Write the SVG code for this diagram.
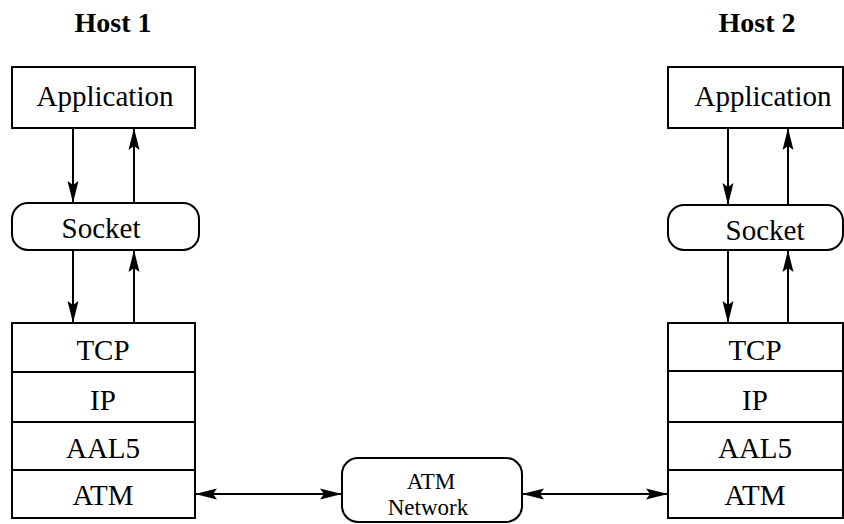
<svg xmlns="http://www.w3.org/2000/svg" width="844" height="524" viewBox="0 0 844 524">
<defs>
<marker id="ah" markerWidth="22" markerHeight="12" refX="22" refY="6" orient="auto-start-reverse" markerUnits="userSpaceOnUse">
<path d="M0,0.5 L22,6 L0,11.5 L4,6 Z" fill="#000"/>
</marker>
</defs>
<style>
.box{fill:#fff;stroke:#000;stroke-width:2}
.t{font-family:"Liberation Serif","Times New Roman",serif;font-size:29px;fill:#000;text-anchor:middle}
.n{font-family:"Liberation Serif","Times New Roman",serif;font-size:23px;fill:#000;text-anchor:middle}
.h{font-family:"Liberation Serif","Times New Roman",serif;font-size:28px;font-weight:bold;fill:#000;text-anchor:middle}
.c{stroke:#000;stroke-width:2;fill:none;marker-end:url(#ah)}
.d{stroke:#000;stroke-width:2;fill:none;marker-start:url(#ah);marker-end:url(#ah)}
</style>
<rect width="844" height="524" fill="#fff"/>
<text class="h" x="113" y="32">Host 1</text>
<text class="h" x="757" y="32">Host 2</text>
<g id="app1"><rect class="box" x="12" y="67" width="183" height="61"/><text class="t" x="105" y="106">Application</text></g>
<g id="sock1"><rect class="box" x="12" y="203" width="187" height="47" rx="16"/><text class="t" x="101" y="238">Socket</text></g>
<g id="stack1">
<rect class="box" x="12" y="323" width="183" height="195"/>
<line x1="12" y1="372" x2="195" y2="372" stroke="#000" stroke-width="2"/>
<line x1="12" y1="422" x2="195" y2="422" stroke="#000" stroke-width="2"/>
<line x1="12" y1="470" x2="195" y2="470" stroke="#000" stroke-width="2"/>
<text class="t" x="103" y="360">TCP</text>
<text class="t" x="103" y="410">IP</text>
<text class="t" x="103" y="458">AAL5</text>
<text class="t" x="103" y="505">ATM</text>
</g>
<g id="app2"><rect class="box" x="668" y="67" width="175" height="61"/><text class="t" x="763" y="106">Application</text></g>
<g id="sock2"><rect class="box" x="668" y="205" width="175" height="45" rx="16"/><text class="t" x="765" y="240">Socket</text></g>
<g id="stack2">
<rect class="box" x="668" y="323" width="175" height="195"/>
<line x1="668" y1="371" x2="843" y2="371" stroke="#000" stroke-width="2"/>
<line x1="668" y1="422" x2="843" y2="422" stroke="#000" stroke-width="2"/>
<line x1="668" y1="470" x2="843" y2="470" stroke="#000" stroke-width="2"/>
<text class="t" x="755" y="360">TCP</text>
<text class="t" x="755" y="410">IP</text>
<text class="t" x="755" y="458">AAL5</text>
<text class="t" x="755" y="505">ATM</text>
</g>
<g id="net"><rect class="box" x="342" y="458" width="180" height="64" rx="16"/>
<text class="n" x="431" y="489">ATM</text>
<text class="n" x="428" y="515">Network</text></g>
<g id="connectors">
<line class="c" x1="73" y1="128" x2="73" y2="203"/>
<line class="c" x1="134" y1="203" x2="134" y2="128"/>
<line class="c" x1="73" y1="250" x2="73" y2="323"/>
<line class="c" x1="134" y1="323" x2="134" y2="250"/>
<line class="c" x1="728" y1="128" x2="728" y2="205"/>
<line class="c" x1="788" y1="205" x2="788" y2="128"/>
<line class="c" x1="728" y1="250" x2="728" y2="323"/>
<line class="c" x1="788" y1="323" x2="788" y2="250"/>
<line class="d" x1="195" y1="494" x2="342" y2="494"/>
<line class="d" x1="522" y1="494" x2="668" y2="494"/>
</g>
</svg>
